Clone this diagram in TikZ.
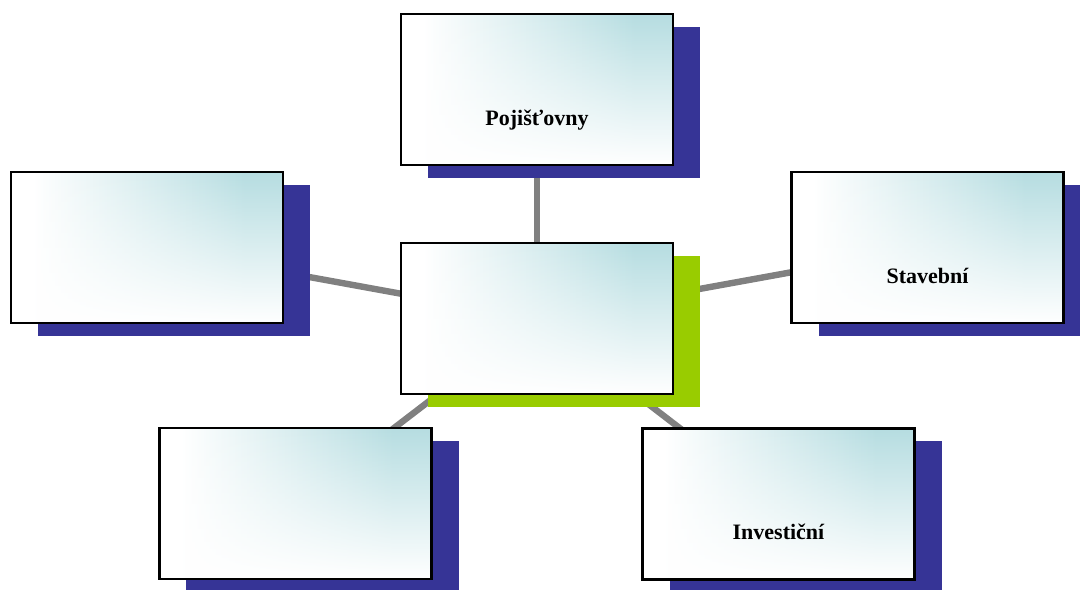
\documentclass[tikz,border=0pt]{standalone}
\usepackage{fontspec}
\setmainfont{Liberation Serif}
\usetikzlibrary{shadows,fadings,backgrounds}
\definecolor{boxteal}{RGB}{182,221,225}
\definecolor{shadowblue}{RGB}{54,52,150}
\definecolor{shadowgreen}{RGB}{153,204,0}
\definecolor{linkgray}{RGB}{128,128,128}
\pgfdeclarehorizontalshading{cardshade}{100bp}{color(0bp)=(white); color(29bp)=(white); color(68bp)=(boxteal); color(100bp)=(boxteal)}
\tikzfading[name=upfade, top color=transparent!100, middle color=transparent!72, bottom color=transparent!0]
\newcommand\lowtext[1]{\smash{\raisebox{-18bp}{#1}}}
\tikzset{
  card/.style={draw=black, line width=1.2bp, minimum width=136bp, minimum height=75.5bp,
    inner sep=0pt, shading=cardshade,
    path picture={\fill[white, path fading=upfade] (path picture bounding box.south west) rectangle (path picture bounding box.north east);},
    font=\fontsize{11bp}{13bp}\selectfont\bfseries,
    general shadow={fill=#1, draw=none, shadow xshift=13.5bp, shadow yshift=-6.5bp}},
  card/.default=shadowblue,
  link/.style={draw=linkgray, line width=3.2bp}
}
\begin{document}
\begin{tikzpicture}[x=0.5bp, y=-0.5bp]
\useasboundingbox (0,0) rectangle (1080,590);
\clip (0,0) rectangle (1080,590);
\node[card] (t) at (537,89.5) {\lowtext{Pojišťovny}};
\node[card] (l) at (147,247.5) {};
\node[card=shadowgreen] (c) at (537,318.5) {};
\node[card] (r) at (927.5,247.5) {\lowtext{Stavební}};
\node[card] (bl) at (295.5,503.5) {};
\node[card] (br) at (778.5,504) {\lowtext{Investiční}};
\begin{scope}[on background layer]
\draw[link] (c.center) -- (t.center);
\draw[link] (c.center) -- (l.center);
\draw[link] (c.center) -- (r.center);
\draw[link] (c.center) -- (bl.center);
\draw[link] (c.center) -- (br.center);
\end{scope}
\end{tikzpicture}
\end{document}
